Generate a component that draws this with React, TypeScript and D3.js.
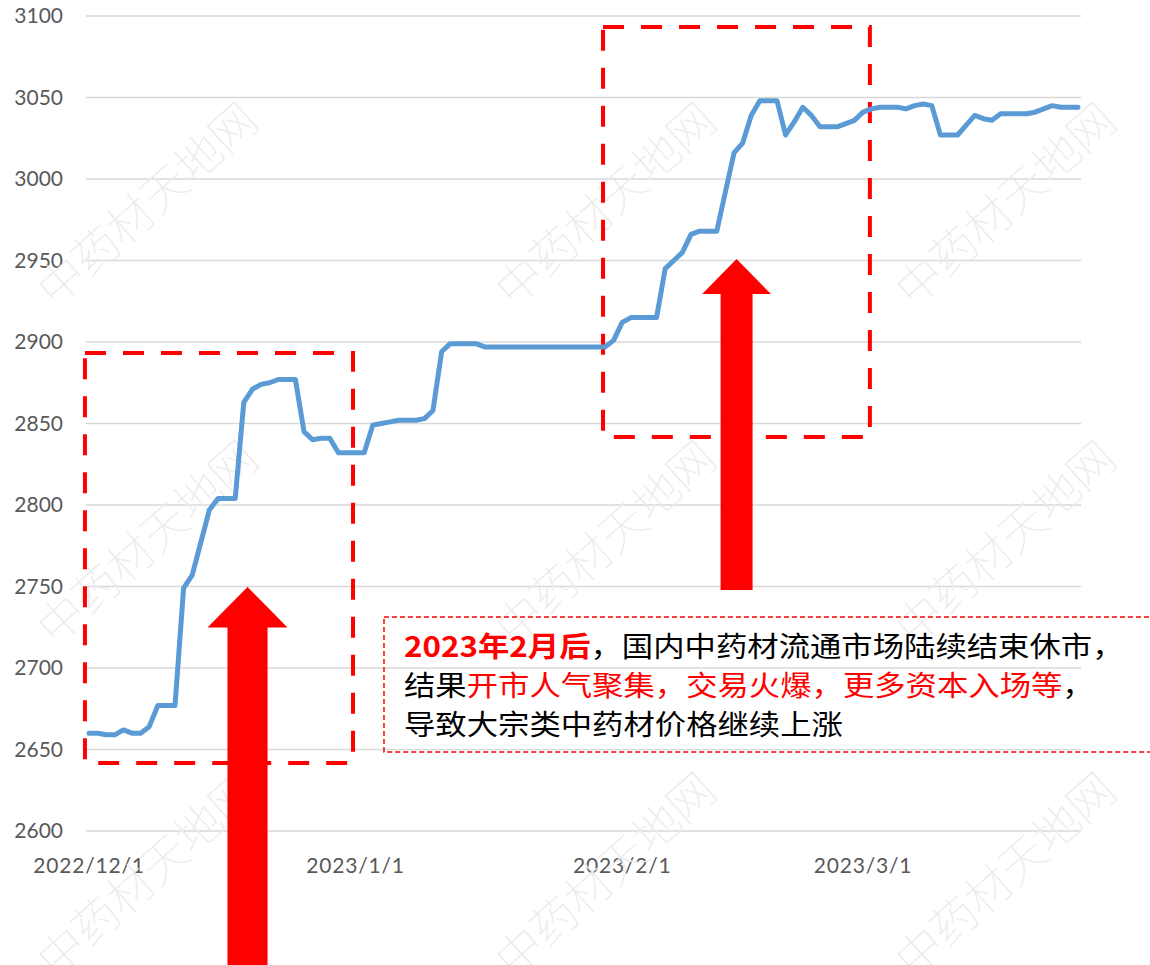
import React, { useEffect, useRef } from 'react'
import * as d3 from 'd3'

// daily price index, starting 2022/12/1
const startDate = new Date(Date.UTC(2022, 11, 1))
const prices = [
  2660, 2660, 2659, 2659, 2662, 2660, 2660, 2664, 2677, 2677, 2677,
  2749, 2757, 2777, 2797, 2804, 2804, 2804,
  2863, 2871, 2874, 2875, 2877, 2877, 2877,
  2845, 2840, 2841, 2841, 2832, 2832, 2832, 2832,
  2849, 2850, 2851, 2852, 2852, 2852, 2853, 2858,
  2894, 2899, 2899, 2899, 2899, 2897,
  2897, 2897, 2897, 2897, 2897, 2897, 2897, 2897, 2897, 2897, 2897, 2897, 2897, 2897,
  2901, 2912, 2915, 2915, 2915, 2915,
  2945, 2950, 2955, 2966, 2968, 2968, 2968,
  2992, 3016, 3022, 3039, 3048, 3048, 3048,
  3027, 3035, 3044, 3039, 3032, 3032, 3032,
  3034, 3036, 3041, 3043, 3044, 3044, 3044, 3043, 3045, 3046, 3045,
  3027, 3027, 3027,
  3033, 3039, 3037, 3036, 3040, 3040, 3040, 3040, 3041, 3043, 3045, 3044, 3044, 3044,
]
const yTicks = [2600, 2650, 2700, 2750, 2800, 2850, 2900, 2950, 3000, 3050, 3100]
const watermark = '中药材天地网'

// note text, [text, red?, bold?]
const noteLines: [string, boolean, boolean][][] = [
  [['2023年2月后', true, true], ['，国内中药材流通市场陆续结束休市，', false, false]],
  [['结果', false, false], ['开市人气聚集，交易火爆，更多资本入场等', true, false], ['，', false, false]],
  [['导致大宗类中药材价格继续上涨', false, false]],
]

// annotations in chart units (day index, value)
const boxes = [
  { d0: -0.47, d1: 30.7, v0: 2641.7, v1: 2893.3 },
  { d0: 59.77, d1: 90.8, v0: 2841.7, v1: 3093.3 },
]
const arrows = [
  { day: 18.43, tip: 2749.7, headBase: 2724.8, headHalf: 4.65, shaftHalf: 2.33, bottom: 2500 },
  { day: 75.3, tip: 2950.9, headBase: 2929.4, headHalf: 4.0, shaftHalf: 1.86, bottom: 2747.9 },
]
const noteBox = { d0: 34.3, d1: 126, v0: 2648.5, v1: 2731.3 }

export default function App() {
  const ref = useRef<SVGSVGElement>(null)

  useEffect(() => {
    const width = 1150, height = 965
    const svg = d3.select(ref.current)
    svg.selectAll('*').remove()
    svg.attr('width', width).attr('height', height)

    const x = d3.scaleLinear().domain([-0.35, prices.length - 1 + 0.35]).range([86, 1081])
    const y = d3.scaleLinear().domain([2600, 3100]).range([831, 16])
    const axisFont = 'Lato, "Open Sans", sans-serif'

    // grid
    svg.append('g')
      .selectAll('line')
      .data(yTicks)
      .join('line')
      .attr('x1', x.range()[0]).attr('x2', x.range()[1])
      .attr('y1', d => y(d)).attr('y2', d => y(d))
      .attr('stroke', '#d9d9d9').attr('stroke-width', 1.3)

    svg.append('g')
      .selectAll('text')
      .data(yTicks)
      .join('text')
      .attr('x', 63).attr('y', d => y(d)).attr('dy', '0.35em')
      .attr('text-anchor', 'end')
      .attr('font-family', axisFont).attr('font-size', 21).attr('fill', '#595959')
      .text(d => d)

    const endDate = d3.utcDay.offset(startDate, prices.length)
    const months = d3.utcMonth.range(startDate, endDate)
    const fmt = d3.utcFormat('%Y/%-m/%-d')
    svg.append('g')
      .selectAll('text')
      .data(months)
      .join('text')
      .attr('x', d => x(d3.utcDay.count(startDate, d)))
      .attr('y', 873)
      .attr('text-anchor', 'middle')
      .attr('font-family', axisFont).attr('font-size', 21).attr('fill', '#595959')
      .attr('letter-spacing', 0.8)
      .text(d => fmt(d))

    // watermarks
    const wmCols = [145, 603, 1003], wmRows = [202, 540, 872]
    const wm = svg.append('g')
    wmRows.forEach(cy => wmCols.forEach(cx => {
      wm.append('text')
        .attr('transform', `translate(${cx},${cy}) rotate(-42)`)
        .attr('text-anchor', 'middle').attr('dominant-baseline', 'central')
        .attr('font-family', '"Noto Sans CJK SC", sans-serif')
        .attr('font-size', 46).attr('font-weight', 100)
        .attr('fill', '#ececec')
        .text(watermark)
    }))

    // dashed boxes
    svg.append('g')
      .selectAll('rect')
      .data(boxes)
      .join('rect')
      .attr('x', d => x(d.d0)).attr('y', d => y(d.v1))
      .attr('width', d => x(d.d1) - x(d.d0)).attr('height', d => y(d.v0) - y(d.v1))
      .attr('fill', 'none').attr('stroke', '#ff0000').attr('stroke-width', 4)
      .attr('stroke-dasharray', '21 17')

    // price line
    const line = d3.line<number>()
      .x((d, i) => x(i))
      .y(d => y(d))
    svg.append('path')
      .datum(prices)
      .attr('d', line)
      .attr('fill', 'none')
      .attr('stroke', '#5b9bd5').attr('stroke-width', 5)
      .attr('stroke-linejoin', 'round').attr('stroke-linecap', 'round')

    // arrows
    svg.append('g')
      .selectAll('path')
      .data(arrows)
      .join('path')
      .attr('d', a => {
        const pts: [number, number][] = [
          [x(a.day), y(a.tip)],
          [x(a.day + a.headHalf), y(a.headBase)],
          [x(a.day + a.shaftHalf), y(a.headBase)],
          [x(a.day + a.shaftHalf), y(a.bottom)],
          [x(a.day - a.shaftHalf), y(a.bottom)],
          [x(a.day - a.shaftHalf), y(a.headBase)],
          [x(a.day - a.headHalf), y(a.headBase)],
        ]
        return 'M' + pts.map(p => p.join(',')).join('L') + 'Z'
      })
      .attr('fill', '#ff0000')

    // note
    svg.append('rect')
      .attr('x', x(noteBox.d0)).attr('y', y(noteBox.v1))
      .attr('width', x(noteBox.d1) - x(noteBox.d0)).attr('height', y(noteBox.v0) - y(noteBox.v1))
      .attr('fill', 'none').attr('stroke', '#ff0000').attr('stroke-width', 1.5)
      .attr('stroke-dasharray', '5 3')

    const note = svg.append('g')
      .attr('transform', `translate(${x(noteBox.d0) + 20},${y(noteBox.v1) + 40}) scale(1.12,1)`)
      .attr('font-family', '"Noto Sans CJK SC", sans-serif')
      .attr('font-size', 28)
    noteLines.forEach((segs, i) => {
      const t = note.append('text').attr('y', i * 39)
      segs.forEach(([s, red, bold]) => {
        t.append('tspan')
          .attr('fill', red ? '#ff0000' : '#000')
          .attr('font-weight', bold ? 700 : 400)
          .text(s)
      })
    })
  }, [])

  return (
    <div style={{ position: 'absolute', left: 0, top: 0 }}>
      <svg ref={ref} style={{ display: 'block', background: '#fff' }} />
    </div>
  )
}
